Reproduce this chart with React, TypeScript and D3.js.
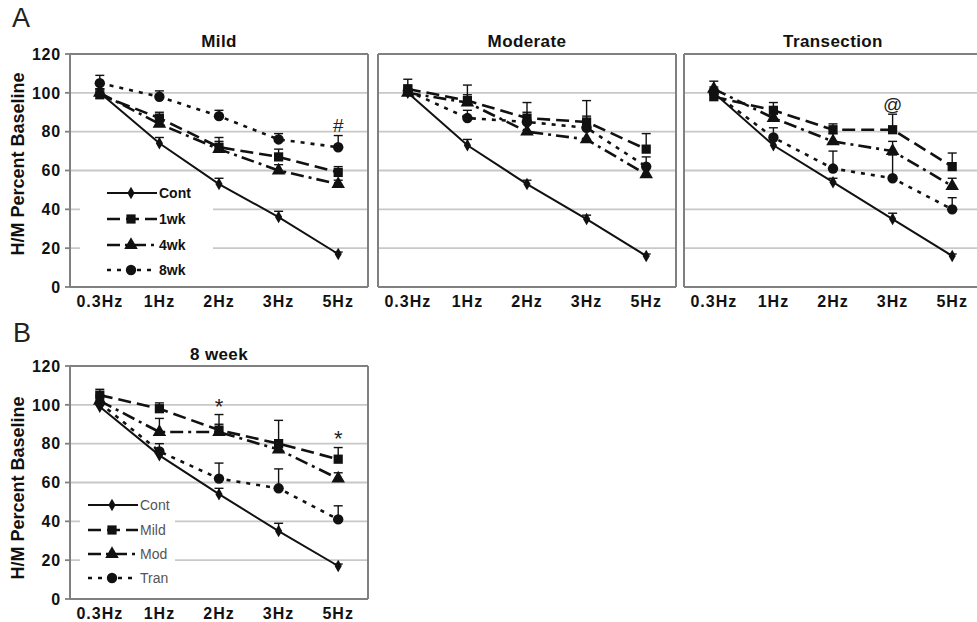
import React from "react";
import * as d3 from "d3";

// ---------- data ----------
const categories = ["0.3Hz", "1Hz", "2Hz", "3Hz", "5Hz"];
const yTicks = [0, 20, 40, 60, 80, 100, 120];
const gridValues = [20, 40, 60, 80, 100];

// Panel A - Mild
const mildCont = [100, 74, 53, 36, 17];
const mildContErr = [2, 3, 3, 3, 1];
const mild1wk = [99, 87, 72, 67, 59];
const mild1wkErr = [3, 3, 5, 4, 3];
const mild4wk = [100, 84, 71, 60, 53];
const mild4wkErr = [2, 3, 4, 3, 2];
const mild8wk = [105, 98, 88, 76, 72];
const mild8wkErr = [4, 3, 3, 3, 6];

// Panel A - Moderate
const modCont = [100, 73, 53, 35, 16];
const modContErr = [2, 3, 2, 2, 1];
const mod1wk = [102, 96, 87, 85, 71];
const mod1wkErr = [5, 8, 8, 11, 8];
const mod4wk = [100, 95, 80, 76, 58];
const mod4wkErr = [3, 4, 4, 5, 4];
const mod8wk = [101, 87, 85, 82, 62];
const mod8wkErr = [3, 4, 5, 6, 5];

// Panel A - Transection
const tranCont = [100, 73, 54, 35, 16];
const tranContErr = [2, 3, 2, 3, 1];
const tran1wk = [98, 91, 81, 81, 62];
const tran1wkErr = [3, 4, 3, 8, 7];
const tran4wk = [102, 87, 75, 70, 52];
const tran4wkErr = [4, 5, 4, 5, 4];
const tran8wk = [100, 77, 61, 56, 40];
const tran8wkErr = [3, 5, 9, 12, 6];

// Panel B - 8 week
const wk8Cont = [99, 74, 54, 35, 17];
const wk8ContErr = [2, 3, 3, 4, 1];
const wk8Mild = [105, 98, 87, 80, 72];
const wk8MildErr = [3, 3, 8, 12, 6];
const wk8Mod = [102, 86, 86, 77, 62];
const wk8ModErr = [3, 7, 4, 5, 3];
const wk8Tran = [101, 76, 62, 57, 41];
const wk8TranErr = [3, 4, 8, 10, 7];

const legendA = ["Cont", "1wk", "4wk", "8wk"];
const legendB = ["Cont", "Mild", "Mod", "Tran"];

// ---------- styles ----------
const FONT = "'Liberation Sans', Arial, Helvetica, sans-serif";
const INK = "#111";
const FRAME = "#808080";
const styles = [
  { symbol: d3.symbolDiamond, size: 45, dash: "", width: 2 },
  { symbol: d3.symbolSquare, size: 85, dash: "13,6", width: 2.6 },
  { symbol: d3.symbolTriangle, size: 80, dash: "13,5,3,5", width: 2.6 },
  { symbol: d3.symbolCircle, size: 85, dash: "4,6", width: 2.6 },
];

type Series = { values: number[]; errors: number[] };
type Ann = { text: string; cat: number; value: number; size?: number };

function Panel(props: {
  x0: number;
  x1: number;
  top: number;
  bottom: number;
  title: string;
  titleY: number;
  series: Series[];
  yAxis?: boolean;
  legend?: { labels: string[]; x: number; rows: number[]; box: [number, number, number, number]; bold: boolean };
  anns?: Ann[];
  rightBorder?: boolean;
}) {
  const { x0, x1, top, bottom, series } = props;
  const x = d3.scalePoint<string>().domain(categories).range([x0, x1]).padding(0.5);
  const y = d3.scaleLinear().domain([0, 120]).range([bottom, top]);
  const line = d3
    .line<number>()
    .x((_, i) => x(categories[i]) as number)
    .y((d) => y(d));
  const sym = (i: number) => d3.symbol().type(styles[i].symbol).size(styles[i].size)() as string;

  return (
    <g>
      <text
        x={(x0 + x1) / 2}
        y={props.titleY}
        textAnchor="middle"
        fontFamily={FONT}
        fontWeight="bold"
        fontSize={17}
        letterSpacing={0.4}
        fill={INK}
      >
        {props.title}
      </text>
      {gridValues.map((v) => (
        <line key={v} x1={x0} x2={x1} y1={y(v)} y2={y(v)} stroke="#c8c8c8" strokeWidth={1.8} />
      ))}
      {props.legend && (
        <rect
          x={props.legend.box[0]}
          y={props.legend.box[1]}
          width={props.legend.box[2]}
          height={props.legend.box[3]}
          fill="#fff"
        />
      )}
      {/* frame */}
      <line x1={x0} x2={x1} y1={top} y2={top} stroke={FRAME} strokeWidth={2} />
      <line x1={x0} x2={x1} y1={bottom} y2={bottom} stroke={FRAME} strokeWidth={2} />
      <line x1={x0} x2={x0} y1={top} y2={bottom} stroke={FRAME} strokeWidth={2} />
      {props.rightBorder !== false && <line x1={x1} x2={x1} y1={top} y2={bottom} stroke={FRAME} strokeWidth={2} />}
      {props.yAxis &&
        yTicks.map((t) => (
          <g key={t}>
            <line x1={x0 - 5} x2={x0} y1={y(t)} y2={y(t)} stroke={FRAME} strokeWidth={1.8} />
            <text
              x={x0 - 9}
              y={y(t)}
              dy="0.36em"
              textAnchor="end"
              fontFamily={FONT}
              fontWeight="bold"
              fontSize={16}
              letterSpacing={0.8}
              fill={INK}
            >
              {t}
            </text>
          </g>
        ))}
      {categories.map((c) => (
        <text
          key={c}
          x={x(c)}
          y={bottom + 20}
          textAnchor="middle"
          fontFamily={FONT}
          fontWeight="bold"
          fontSize={16}
          letterSpacing={1}
          fill={INK}
        >
          {c}
        </text>
      ))}
      {/* lines */}
      {series.map((s, i) => (
        <path
          key={"l" + i}
          d={line(s.values) as string}
          fill="none"
          stroke={INK}
          strokeWidth={styles[i].width}
          strokeDasharray={styles[i].dash}
        />
      ))}
      {/* error bars (upper) */}
      {series.map((s, i) =>
        s.values.map((v, j) => {
          const cx = x(categories[j]) as number;
          return (
            <g key={"e" + i + "-" + j}>
              <line x1={cx} x2={cx} y1={y(v)} y2={y(v + s.errors[j])} stroke={INK} strokeWidth={1.4} />
              <line
                x1={cx - 4.5}
                x2={cx + 4.5}
                y1={y(v + s.errors[j])}
                y2={y(v + s.errors[j])}
                stroke={INK}
                strokeWidth={1.4}
              />
            </g>
          );
        })
      )}
      {/* markers */}
      {series.map((s, i) =>
        s.values.map((v, j) => (
          <path key={"m" + i + "-" + j} d={sym(i)} transform={`translate(${x(categories[j])},${y(v)})`} fill={INK} />
        ))
      )}
      {/* legend */}
      {props.legend &&
        props.legend.labels.map((lab, i) => {
          const lg = props.legend!;
          const ly = lg.rows[i];
          return (
            <g key={lab}>
              <line
                x1={lg.x}
                x2={lg.x + 50}
                y1={ly}
                y2={ly}
                stroke={INK}
                strokeWidth={styles[i].width}
                strokeDasharray={styles[i].dash}
              />
              <path d={sym(i)} transform={`translate(${lg.x + 24},${ly})`} fill={INK} />
              <text
                x={lg.x + 52}
                y={ly}
                dy="0.36em"
                fontFamily={FONT}
                fontWeight={lg.bold ? "bold" : "normal"}
                fontSize={14}
                fill={lg.bold ? INK : "#555"}
              >
                {lab}
              </text>
            </g>
          );
        })}
      {props.anns &&
        props.anns.map((a, k) => (
          <text
            key={k}
            x={x(categories[a.cat])}
            y={y(a.value)}
            dy="0.35em"
            textAnchor="middle"
            fontFamily={FONT}
            fontSize={a.size ?? 18}
            fill="#222"
          >
            {a.text}
          </text>
        ))}
    </g>
  );
}

function YLabel({ cx, cy }: { cx: number; cy: number }) {
  return (
    <text
      transform={`translate(${cx},${cy}) rotate(-90)`}
      textAnchor="middle"
      dy="0.36em"
      fontFamily={FONT}
      fontWeight="bold"
      fontSize={18}
      fill={INK}
    >
      H/M Percent Baseline
    </text>
  );
}

export default function App() {
  const mk = (v: number[], e: number[]): Series => ({ values: v, errors: e });
  return (
    <svg width={977} height={622} style={{ position: "absolute", left: 0, top: 0, background: "#fff" }}>
      <rect width={977} height={622} fill="#fff" />
      <text x={12} y={27} fontFamily={FONT} fontSize={27} fill="#222">
        A
      </text>
      <text x={13} y={342} fontFamily={FONT} fontSize={27} fill="#222">
        B
      </text>

      <YLabel cx={18} cy={164} />
      <YLabel cx={18} cy={488} />

      <Panel
        x0={70}
        x1={368}
        top={54}
        bottom={287}
        title="Mild"
        titleY={47}
        yAxis
        series={[mk(mildCont, mildContErr), mk(mild1wk, mild1wkErr), mk(mild4wk, mild4wkErr), mk(mild8wk, mild8wkErr)]}
        legend={{ labels: legendA, x: 107, rows: [193, 219, 245, 270], box: [80, 180, 133, 104], bold: true }}
        anns={[{ text: "#", cat: 4, value: 83, size: 19 }]}
      />
      <Panel
        x0={378}
        x1={676}
        top={54}
        bottom={287}
        title="Moderate"
        titleY={47}
        series={[mk(modCont, modContErr), mk(mod1wk, mod1wkErr), mk(mod4wk, mod4wkErr), mk(mod8wk, mod8wkErr)]}
      />
      <Panel
        x0={684}
        x1={982}
        top={54}
        bottom={287}
        title="Transection"
        titleY={47}
        rightBorder={false}
        series={[mk(tranCont, tranContErr), mk(tran1wk, tran1wkErr), mk(tran4wk, tran4wkErr), mk(tran8wk, tran8wkErr)]}
        anns={[{ text: "@", cat: 3, value: 94, size: 19 }]}
      />
      <Panel
        x0={70}
        x1={368}
        top={366}
        bottom={599}
        title="8 week"
        titleY={360}
        yAxis
        series={[mk(wk8Cont, wk8ContErr), mk(wk8Mild, wk8MildErr), mk(wk8Mod, wk8ModErr), mk(wk8Tran, wk8TranErr)]}
        legend={{ labels: legendB, x: 88, rows: [505, 530, 554, 578], box: [80, 492, 95, 106], bold: false }}
        anns={[
          { text: "*", cat: 2, value: 99, size: 22 },
          { text: "*", cat: 4, value: 83, size: 22 },
        ]}
      />
    </svg>
  );
}
